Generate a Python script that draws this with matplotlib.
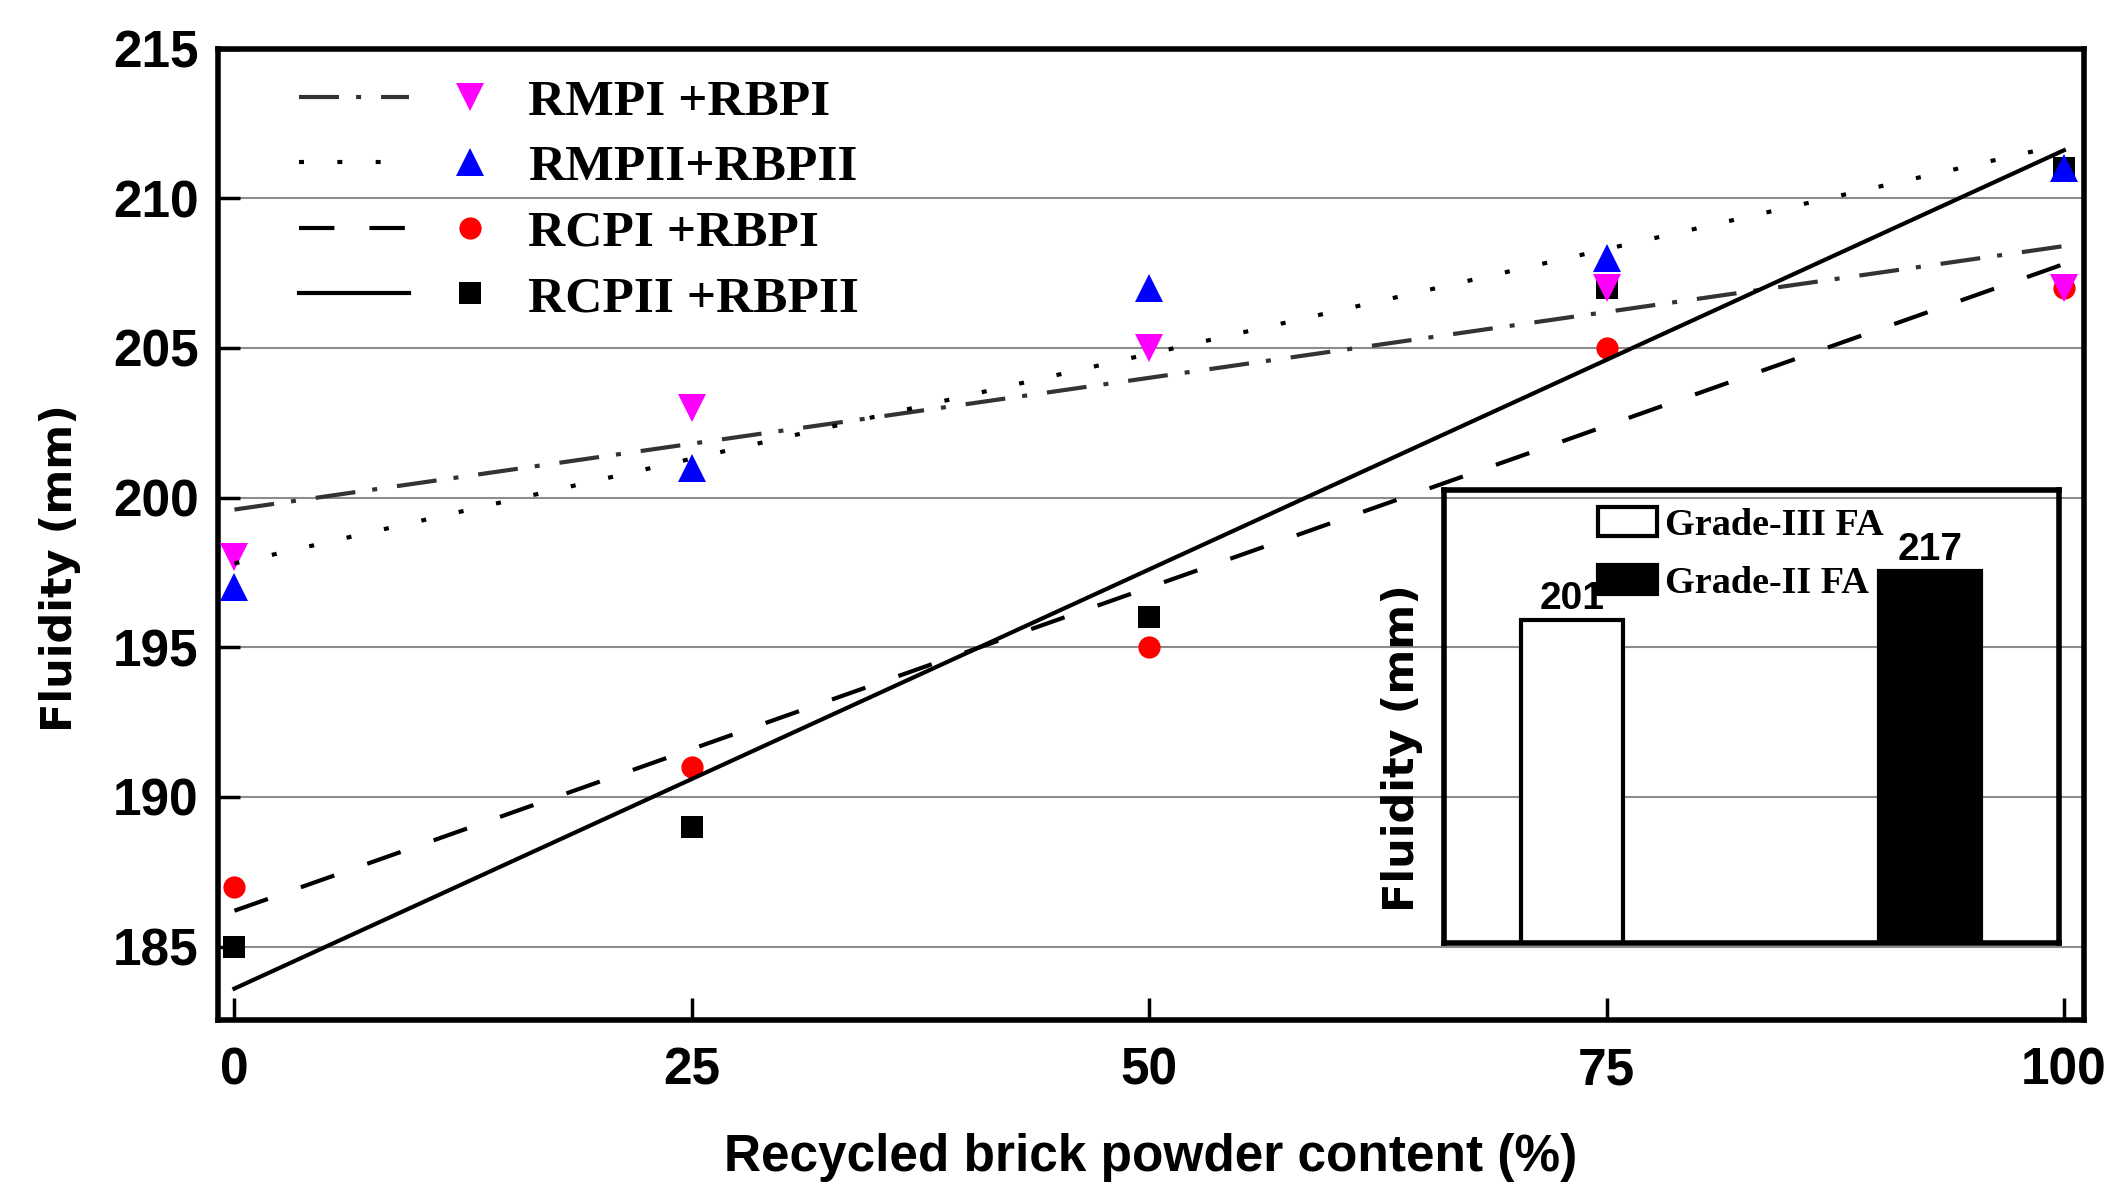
import numpy as np
import matplotlib
matplotlib.use("Agg")
import matplotlib.pyplot as plt
from matplotlib.legend_handler import HandlerTuple
from matplotlib.patches import Patch

plt.rcParams['font.family'] = ['Liberation Sans', 'DejaVu Sans']
plt.rcParams['font.weight'] = 'bold'

# ---- data ----
rbp_content = [0, 25, 50, 75, 100]
rmpi_rbpi = [198, 203, 205, 207, 207]
rmpii_rbpii = [197, 201, 207, 208, 211]
rcpi_rbpi = [187, 191, 195, 205, 207]
rcpii_rbpii = [185, 189, 196, 207, 211]
series_labels = ["RMPI +RBPI", "RMPII+RBPII", "RCPI +RBPI", "RCPII +RBPII"]

inset_categories = ["Grade-III FA", "Grade-II FA"]
inset_values = [201, 217]

x_ticks = [0, 25, 50, 75, 100]
y_ticks = [185, 190, 195, 200, 205, 210, 215]

W, H = 2116, 1195
fig = plt.figure(figsize=(W / 100, H / 100), dpi=100)
ax = fig.add_axes([218 / W, 1 - 1020 / H, (2084 - 218) / W, (1020 - 48.5) / H])

x = np.array(rbp_content, dtype=float)
xfit = np.array([x.min(), x.max()])

lw = 3.0
styles = [
    dict(color='#333333', dashes=(9.6, 4.1, 1.2, 4.8)),
    dict(color='black', dashes=(1.2, 8.0)),
    dict(color='black', dashes=(8.5, 8.4)),
    dict(color='black', linestyle='-'),
]
markers = [
    dict(marker='v', color='#FF00FF', ms=20),
    dict(marker='^', color='#0000FF', ms=20),
    dict(marker='o', color='#FF0000', ms=16),
    dict(marker='s', color='black', ms=15.5),
]
datasets = [rmpi_rbpi, rmpii_rbpii, rcpi_rbpi, rcpii_rbpii]

pts_handles = [None] * 4
line_handles = [None] * 4
# draw markers: black first, magenta last on top
for i in [3, 2, 1, 0]:
    m = markers[i]
    p, = ax.plot(x, datasets[i], linestyle='none', marker=m['marker'],
                 color=m['color'], ms=m['ms'], markeredgewidth=0, zorder=3)
    pts_handles[i] = p
for i in range(4):
    coef = np.polyfit(x, datasets[i], 1)
    yfit = np.polyval(coef, xfit)
    st = styles[i]
    if 'dashes' in st:
        l, = ax.plot(xfit, yfit, color=st['color'], lw=lw, dashes=st['dashes'], zorder=4)
    else:
        l, = ax.plot(xfit, yfit, color=st['color'], lw=lw, linestyle='-', zorder=4)
    line_handles[i] = l

ax.set_xlim(-0.9, 101.1)
ax.set_ylim(182.55, 215)
ax.set_xticks(x_ticks)
ax.set_yticks(y_ticks)
ax.tick_params(axis='both', direction='in', length=15.5, width=2.5, labelsize=37)
ax.tick_params(axis='x', pad=19, top=False)
ax.tick_params(axis='y', pad=14, right=False)
for lab in ax.get_xticklabels() + ax.get_yticklabels():
    lab.set_fontweight('bold')
for sp in ax.spines.values():
    sp.set_linewidth(4)
ax.yaxis.grid(True, color='#8c8c8c', lw=1.5, zorder=0)
ax.set_axisbelow(True)

ax.set_xlabel("Recycled brick powder content (%)", fontsize=37, fontweight='bold', labelpad=27)
ax.set_ylabel("Fluidity (mm)", fontsize=31, fontweight='bold', family='DejaVu Sans')
ax.yaxis.set_label_coords(-0.0735, 0.465)

leg = ax.legend(handles=[(line_handles[i], pts_handles[i]) for i in range(4)],
                labels=series_labels,
                handler_map={tuple: HandlerTuple(ndivide=None, pad=0.1)},
                loc='upper left', bbox_to_anchor=(0.0434, 0.969),
                frameon=False, borderpad=0, borderaxespad=0,
                handlelength=4.4, handletextpad=0.05, labelspacing=0.36,
                prop=dict(family='Liberation Serif', weight='bold', size=37))

# ---- inset ----
ax2 = fig.add_axes([1444 / W, 1 - 943 / H, (2059 - 1444) / W, (943 - 490) / H])
ax2.set_facecolor('none')
pos = [1, 2]
bars = ax2.bar(pos, inset_values, width=0.285, color=['white', 'black'],
               edgecolor='black', linewidth=3)
for b, v in zip(bars, inset_values):
    ax2.text(b.get_x() + b.get_width() / 2, v + 1.0, str(v), ha='center', va='bottom',
             fontsize=28, fontweight='bold')
ax2.set_xlim(0.6425, 2.36)
ax2.set_ylim(95.5, 243.4)
ax2.set_xticks([])
ax2.set_yticks([])
for sp in ax2.spines.values():
    sp.set_linewidth(4)
ax2.set_ylabel("Fluidity (mm)", fontsize=31, fontweight='bold', family='DejaVu Sans')
ax2.yaxis.set_label_coords(-0.034, 0.43)
ax2.legend(handles=[Patch(facecolor='white', edgecolor='black', linewidth=3),
                    Patch(facecolor='black', edgecolor='black', linewidth=3)],
           labels=inset_categories, loc='upper left', bbox_to_anchor=(0.25, 0.962),
           frameon=False, borderpad=0, borderaxespad=0,
           handlelength=1.55, handleheight=0.8, handletextpad=0.2, labelspacing=0.58,
           prop=dict(family='Liberation Serif', weight='bold', size=27.5))

fig.savefig("out.png", dpi=100)
